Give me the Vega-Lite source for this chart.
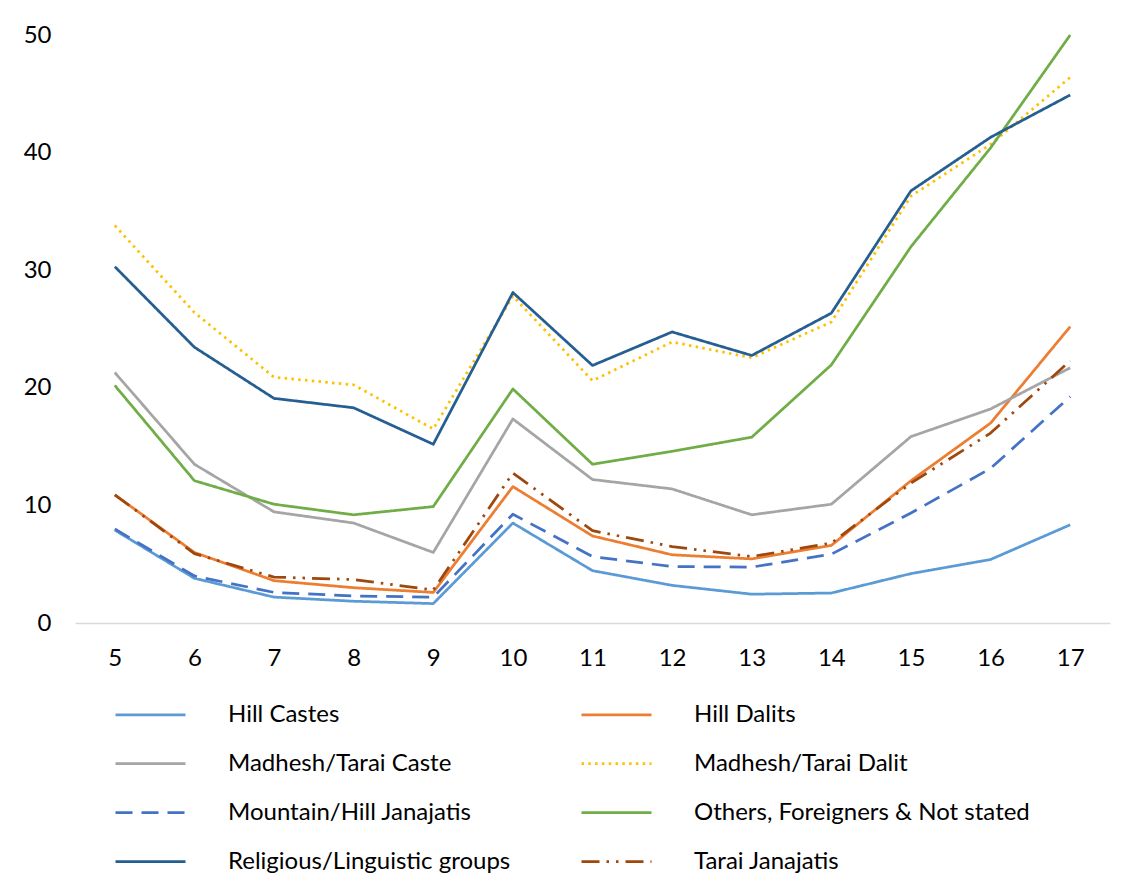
{
  "$schema": "https://vega.github.io/schema/vega-lite/v6.json",
  "width": 1035,
  "height": 588,
  "autosize": {"type": "none"},
  "padding": {"left": 75, "top": 35, "right": 31, "bottom": 270},
  "background": "white",
  "config": {
    "view": {"stroke": null},
    "font": "Lato"
  },
  "data": {
    "values": [
      {"Age": 5, "Group": "Hill Castes", "Percent": 7.9},
      {"Age": 6, "Group": "Hill Castes", "Percent": 3.8},
      {"Age": 7, "Group": "Hill Castes", "Percent": 2.2},
      {"Age": 8, "Group": "Hill Castes", "Percent": 1.85},
      {"Age": 9, "Group": "Hill Castes", "Percent": 1.65},
      {"Age": 10, "Group": "Hill Castes", "Percent": 8.5},
      {"Age": 11, "Group": "Hill Castes", "Percent": 4.45},
      {"Age": 12, "Group": "Hill Castes", "Percent": 3.2},
      {"Age": 13, "Group": "Hill Castes", "Percent": 2.45},
      {"Age": 14, "Group": "Hill Castes", "Percent": 2.55},
      {"Age": 15, "Group": "Hill Castes", "Percent": 4.2},
      {"Age": 16, "Group": "Hill Castes", "Percent": 5.4},
      {"Age": 17, "Group": "Hill Castes", "Percent": 8.35},
      {"Age": 5, "Group": "Hill Dalits", "Percent": 10.9},
      {"Age": 6, "Group": "Hill Dalits", "Percent": 6.0},
      {"Age": 7, "Group": "Hill Dalits", "Percent": 3.6},
      {"Age": 8, "Group": "Hill Dalits", "Percent": 3.0},
      {"Age": 9, "Group": "Hill Dalits", "Percent": 2.6},
      {"Age": 10, "Group": "Hill Dalits", "Percent": 11.6},
      {"Age": 11, "Group": "Hill Dalits", "Percent": 7.4},
      {"Age": 12, "Group": "Hill Dalits", "Percent": 5.8},
      {"Age": 13, "Group": "Hill Dalits", "Percent": 5.45},
      {"Age": 14, "Group": "Hill Dalits", "Percent": 6.6},
      {"Age": 15, "Group": "Hill Dalits", "Percent": 12.1},
      {"Age": 16, "Group": "Hill Dalits", "Percent": 17.0},
      {"Age": 17, "Group": "Hill Dalits", "Percent": 25.2},
      {"Age": 5, "Group": "Madhesh/Tarai Caste", "Percent": 21.3},
      {"Age": 6, "Group": "Madhesh/Tarai Caste", "Percent": 13.5},
      {"Age": 7, "Group": "Madhesh/Tarai Caste", "Percent": 9.45},
      {"Age": 8, "Group": "Madhesh/Tarai Caste", "Percent": 8.5},
      {"Age": 9, "Group": "Madhesh/Tarai Caste", "Percent": 6.0},
      {"Age": 10, "Group": "Madhesh/Tarai Caste", "Percent": 17.35},
      {"Age": 11, "Group": "Madhesh/Tarai Caste", "Percent": 12.2},
      {"Age": 12, "Group": "Madhesh/Tarai Caste", "Percent": 11.4},
      {"Age": 13, "Group": "Madhesh/Tarai Caste", "Percent": 9.2},
      {"Age": 14, "Group": "Madhesh/Tarai Caste", "Percent": 10.1},
      {"Age": 15, "Group": "Madhesh/Tarai Caste", "Percent": 15.85},
      {"Age": 16, "Group": "Madhesh/Tarai Caste", "Percent": 18.2},
      {"Age": 17, "Group": "Madhesh/Tarai Caste", "Percent": 21.7},
      {"Age": 5, "Group": "Madhesh/Tarai Dalit", "Percent": 33.8},
      {"Age": 6, "Group": "Madhesh/Tarai Dalit", "Percent": 26.4},
      {"Age": 7, "Group": "Madhesh/Tarai Dalit", "Percent": 20.9},
      {"Age": 8, "Group": "Madhesh/Tarai Dalit", "Percent": 20.25},
      {"Age": 9, "Group": "Madhesh/Tarai Dalit", "Percent": 16.5},
      {"Age": 10, "Group": "Madhesh/Tarai Dalit", "Percent": 27.8},
      {"Age": 11, "Group": "Madhesh/Tarai Dalit", "Percent": 20.6},
      {"Age": 12, "Group": "Madhesh/Tarai Dalit", "Percent": 23.9},
      {"Age": 13, "Group": "Madhesh/Tarai Dalit", "Percent": 22.55},
      {"Age": 14, "Group": "Madhesh/Tarai Dalit", "Percent": 25.6},
      {"Age": 15, "Group": "Madhesh/Tarai Dalit", "Percent": 36.3},
      {"Age": 16, "Group": "Madhesh/Tarai Dalit", "Percent": 40.7},
      {"Age": 17, "Group": "Madhesh/Tarai Dalit", "Percent": 46.4},
      {"Age": 5, "Group": "Mountain/Hill Janajatis", "Percent": 8.0},
      {"Age": 6, "Group": "Mountain/Hill Janajatis", "Percent": 4.0},
      {"Age": 7, "Group": "Mountain/Hill Janajatis", "Percent": 2.6},
      {"Age": 8, "Group": "Mountain/Hill Janajatis", "Percent": 2.3},
      {"Age": 9, "Group": "Mountain/Hill Janajatis", "Percent": 2.2},
      {"Age": 10, "Group": "Mountain/Hill Janajatis", "Percent": 9.25},
      {"Age": 11, "Group": "Mountain/Hill Janajatis", "Percent": 5.65},
      {"Age": 12, "Group": "Mountain/Hill Janajatis", "Percent": 4.8},
      {"Age": 13, "Group": "Mountain/Hill Janajatis", "Percent": 4.75},
      {"Age": 14, "Group": "Mountain/Hill Janajatis", "Percent": 5.85},
      {"Age": 15, "Group": "Mountain/Hill Janajatis", "Percent": 9.35},
      {"Age": 16, "Group": "Mountain/Hill Janajatis", "Percent": 13.15},
      {"Age": 17, "Group": "Mountain/Hill Janajatis", "Percent": 19.25},
      {"Age": 5, "Group": "Others, Foreigners & Not stated", "Percent": 20.2},
      {"Age": 6, "Group": "Others, Foreigners & Not stated", "Percent": 12.1},
      {"Age": 7, "Group": "Others, Foreigners & Not stated", "Percent": 10.1},
      {"Age": 8, "Group": "Others, Foreigners & Not stated", "Percent": 9.2},
      {"Age": 9, "Group": "Others, Foreigners & Not stated", "Percent": 9.9},
      {"Age": 10, "Group": "Others, Foreigners & Not stated", "Percent": 19.9},
      {"Age": 11, "Group": "Others, Foreigners & Not stated", "Percent": 13.5},
      {"Age": 12, "Group": "Others, Foreigners & Not stated", "Percent": 14.6},
      {"Age": 13, "Group": "Others, Foreigners & Not stated", "Percent": 15.8},
      {"Age": 14, "Group": "Others, Foreigners & Not stated", "Percent": 21.95},
      {"Age": 15, "Group": "Others, Foreigners & Not stated", "Percent": 32.0},
      {"Age": 16, "Group": "Others, Foreigners & Not stated", "Percent": 40.4},
      {"Age": 17, "Group": "Others, Foreigners & Not stated", "Percent": 50.0},
      {"Age": 5, "Group": "Religious/Linguistic groups", "Percent": 30.3},
      {"Age": 6, "Group": "Religious/Linguistic groups", "Percent": 23.45},
      {"Age": 7, "Group": "Religious/Linguistic groups", "Percent": 19.1},
      {"Age": 8, "Group": "Religious/Linguistic groups", "Percent": 18.3},
      {"Age": 9, "Group": "Religious/Linguistic groups", "Percent": 15.2},
      {"Age": 10, "Group": "Religious/Linguistic groups", "Percent": 28.1},
      {"Age": 11, "Group": "Religious/Linguistic groups", "Percent": 21.9},
      {"Age": 12, "Group": "Religious/Linguistic groups", "Percent": 24.75},
      {"Age": 13, "Group": "Religious/Linguistic groups", "Percent": 22.75},
      {"Age": 14, "Group": "Religious/Linguistic groups", "Percent": 26.35},
      {"Age": 15, "Group": "Religious/Linguistic groups", "Percent": 36.75},
      {"Age": 16, "Group": "Religious/Linguistic groups", "Percent": 41.3},
      {"Age": 17, "Group": "Religious/Linguistic groups", "Percent": 44.9},
      {"Age": 5, "Group": "Tarai Janajatis", "Percent": 10.9},
      {"Age": 6, "Group": "Tarai Janajatis", "Percent": 5.9},
      {"Age": 7, "Group": "Tarai Janajatis", "Percent": 3.9},
      {"Age": 8, "Group": "Tarai Janajatis", "Percent": 3.7},
      {"Age": 9, "Group": "Tarai Janajatis", "Percent": 2.8},
      {"Age": 10, "Group": "Tarai Janajatis", "Percent": 12.75},
      {"Age": 11, "Group": "Tarai Janajatis", "Percent": 7.85},
      {"Age": 12, "Group": "Tarai Janajatis", "Percent": 6.5},
      {"Age": 13, "Group": "Tarai Janajatis", "Percent": 5.65},
      {"Age": 14, "Group": "Tarai Janajatis", "Percent": 6.8},
      {"Age": 15, "Group": "Tarai Janajatis", "Percent": 11.9},
      {"Age": 16, "Group": "Tarai Janajatis", "Percent": 16.15},
      {"Age": 17, "Group": "Tarai Janajatis", "Percent": 22.3}
    ]
  },
  "mark": {"type": "line", "strokeWidth": 2.75, "strokeCap": "butt", "strokeJoin": "round"},
  "encoding": {
    "x": {
      "field": "Age",
      "type": "ordinal",
      "sort": "ascending",
      "scale": {"type": "point", "padding": 0.5},
      "axis": {
        "title": null,
        "labelAngle": 0,
        "labelFontSize": 24,
        "labelColor": "#000000",
        "labelPadding": 23,
        "ticks": false,
        "domainColor": "#D9D9D9",
        "domainWidth": 1.5,
        "grid": false
      }
    },
    "y": {
      "field": "Percent",
      "type": "quantitative",
      "scale": {"domain": [0, 50], "nice": false, "zero": true},
      "axis": {
        "title": null,
        "values": [0, 10, 20, 30, 40, 50],
        "labelFontSize": 24,
        "labelColor": "#000000",
        "labelPadding": 24,
        "ticks": false,
        "domain": false,
        "grid": false
      }
    },
    "color": {
      "field": "Group",
      "type": "nominal",
      "scale": {
        "domain": ["Hill Castes", "Hill Dalits", "Madhesh/Tarai Caste", "Madhesh/Tarai Dalit", "Mountain/Hill Janajatis", "Others, Foreigners & Not stated", "Religious/Linguistic groups", "Tarai Janajatis"],
        "range": ["#5B9BD5", "#ED7D31", "#A5A5A5", "#FFC000", "#4472C4", "#70AD47", "#255E91", "#9E480E"]
      },
      "legend": {
        "title": null,
        "orient": "none",
        "direction": "horizontal",
        "legendX": 39,
        "legendY": 643,
        "columns": 2,
        "columnPadding": 65,
        "rowPadding": -23.3,
        "symbolType": "stroke",
        "symbolSize": 4900,
        "symbolStrokeWidth": 2.75,
        "labelOffset": 41,
        "labelFontSize": 24,
        "labelColor": "#000000",
        "labelLimit": 500
      }
    },
    "strokeDash": {
      "field": "Group",
      "type": "nominal",
      "scale": {
        "domain": ["Hill Castes", "Hill Dalits", "Madhesh/Tarai Caste", "Madhesh/Tarai Dalit", "Mountain/Hill Janajatis", "Others, Foreigners & Not stated", "Religious/Linguistic groups", "Tarai Janajatis"],
        "range": [[1, 0], [1, 0], [1, 0], [2.5, 4.3], [17, 9], [1, 0], [1, 0], [18, 7, 2.5, 7, 2.5, 7]]
      },
      "legend": {
        "title": null,
        "orient": "none",
        "direction": "horizontal",
        "legendX": 39,
        "legendY": 643,
        "columns": 2,
        "columnPadding": 65,
        "rowPadding": -23.3,
        "symbolType": "stroke",
        "symbolSize": 4900,
        "symbolStrokeWidth": 2.75,
        "labelOffset": 41,
        "labelFontSize": 24,
        "labelColor": "#000000",
        "labelLimit": 500
      }
    }
  }
}
